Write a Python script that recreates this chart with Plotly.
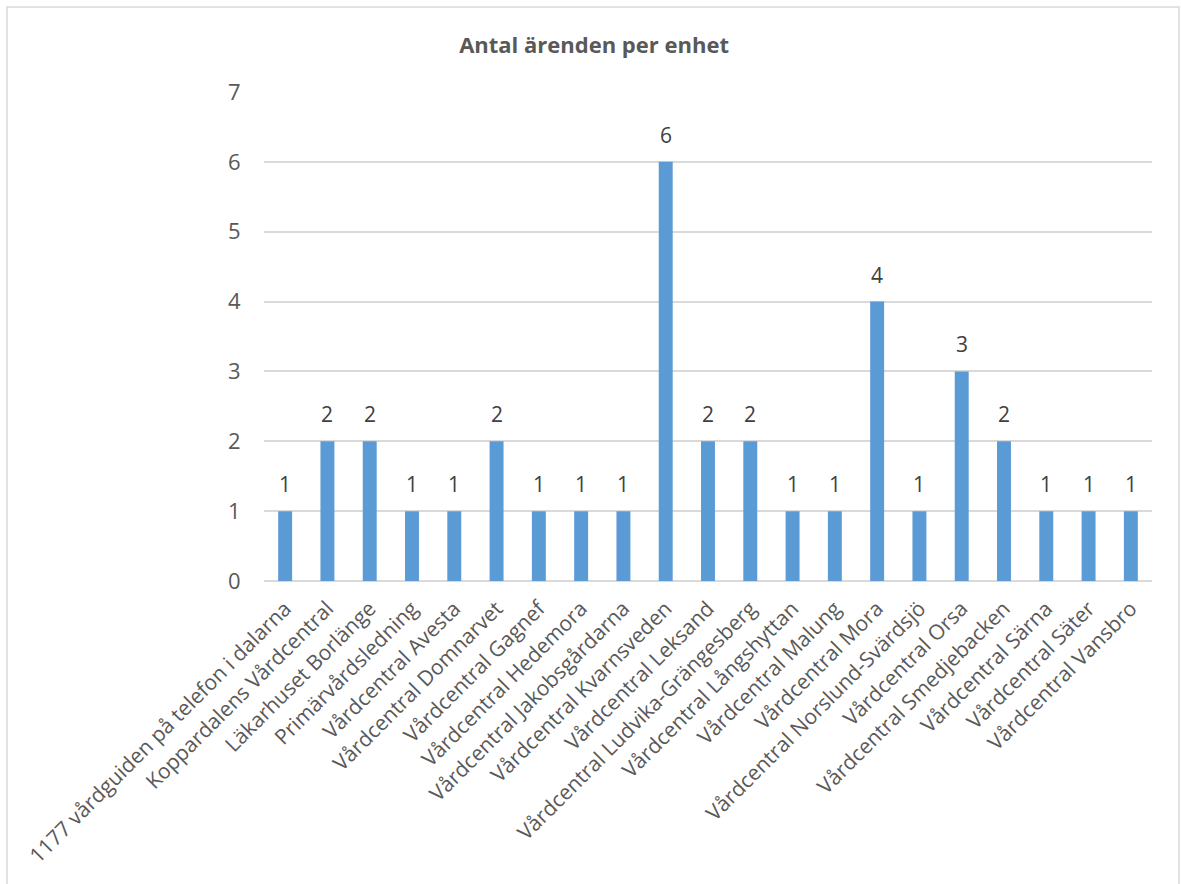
import plotly.graph_objects as go

categories = [
    "1177 vårdguiden på telefon i dalarna",
    "Koppardalens Vårdcentral",
    "Läkarhuset Borlänge",
    "Primärvårdsledning",
    "Vårdcentral Avesta",
    "Vårdcentral Domnarvet",
    "Vårdcentral Gagnef",
    "Vårdcentral Hedemora",
    "Vårdcentral Jakobsgårdarna",
    "Vårdcentral Kvarnsveden",
    "Vårdcentral Leksand",
    "Vårdcentral Ludvika-Grängesberg",
    "Vårdcentral Långshyttan",
    "Vårdcentral Malung",
    "Vårdcentral Mora",
    "Vårdcentral Norslund-Svärdsjö",
    "Vårdcentral Orsa",
    "Vårdcentral Smedjebacken",
    "Vårdcentral Särna",
    "Vårdcentral Säter",
    "Vårdcentral Vansbro",
]
values = [1, 2, 2, 1, 1, 2, 1, 1, 1, 6, 2, 2, 1, 1, 4, 1, 3, 2, 1, 1, 1]
y_ticks = [0, 1, 2, 3, 4, 5, 6, 7]

FONT = "Open Sans, Noto Sans, sans-serif"

fig = go.Figure()
fig.add_trace(go.Bar(
    x=categories, y=values,
    marker=dict(color="#5B9BD5", line=dict(width=0)),
    hoverinfo="x+y",
))

for c, v in zip(categories, values):
    fig.add_annotation(x=c, y=v, text=str(v), showarrow=False,
                       yanchor="bottom", yshift=11,
                       font=dict(family=FONT, size=21, color="#404040"))

# outer border
fig.add_shape(type="rect", xref="paper", yref="paper",
              x0=-0.2894, x1=1.0304, y0=-0.65, y1=1.1738,
              line=dict(color="#D9D9D9", width=1.5), fillcolor="rgba(0,0,0,0)")

fig.update_layout(
    width=1181, height=884,
    paper_bgcolor="white", plot_bgcolor="white",
    margin=dict(l=264, r=29, t=92, b=303, autoexpand=False),
    title=dict(text="<b>Antal ärenden per enhet</b>", x=0.503, xanchor="center",
               y=1 - 45 / 884, yanchor="middle",
               font=dict(family=FONT, size=22, color="#595959")),
    bargap=0.67,
    showlegend=False,
    xaxis=dict(tickangle=-45, tickfont=dict(family=FONT, size=21, color="#595959"),
               showline=False, showgrid=False, ticks="outside", ticklen=6,
               tickcolor="rgba(0,0,0,0)", automargin=False,
               zeroline=False),
    yaxis=dict(range=[0, 7], tickvals=y_ticks, tickfont=dict(family=FONT, size=22, color="#595959"),
               showgrid=True, gridcolor="#D9D9D9", gridwidth=1.5,
               zeroline=True, zerolinecolor="#D9D9D9", zerolinewidth=1.5,
               ticks="outside", ticklen=18, tickcolor="rgba(0,0,0,0)",
               showline=False, automargin=False),
)

fig.write_html("out.html")
